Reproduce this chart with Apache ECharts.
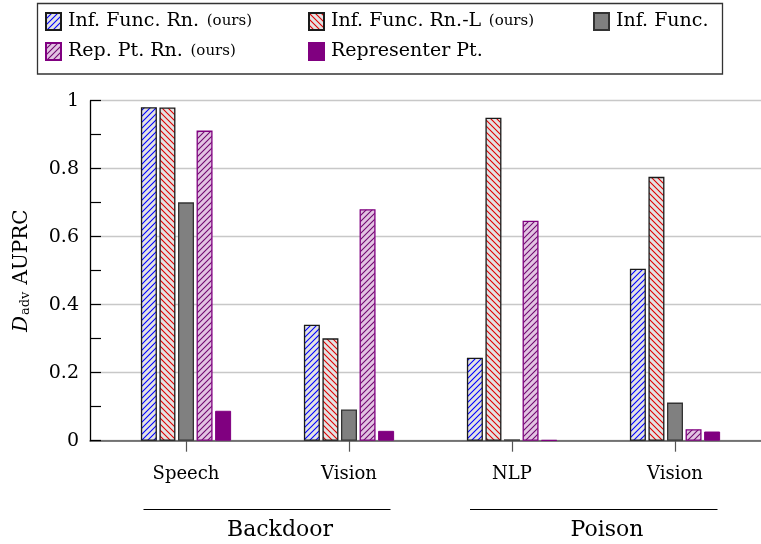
<!DOCTYPE html>
<html>
<head>
<meta charset="utf-8">
<script src="https://cdn.jsdelivr.net/npm/echarts@6/dist/echarts.min.js"></script>
<style>html,body{margin:0;padding:0;background:#fff;}#c{width:761px;height:544px;}</style>
</head>
<body>
<div id="c"></div>
<script>
// ---- data ----
var categories = ['Speech', 'Vision', 'NLP', 'Vision'];
var groups = ['Backdoor', 'Poison'];
var seriesNames = ['Inf. Func. Rn.', 'Inf. Func. Rn.-L', 'Inf. Func.', 'Rep. Pt. Rn.', 'Representer Pt.'];
var infFuncRn   = [0.981, 0.341, 0.244, 0.506];
var infFuncRnL  = [0.980, 0.301, 0.950, 0.776];
var infFunc     = [0.701, 0.092, 0.004, 0.112];
var repPtRn     = [0.912, 0.681, 0.647, 0.034];
var representer = [0.088, 0.029, 0.002, 0.027];
var yTicks = [0, 0.2, 0.4, 0.6, 0.8, 1];

var FONT = 'DejaVu Serif';

function hatch(bg, fg, dir, sp, lw) {
  var s = sp * 4;
  var c = document.createElement('canvas');
  c.width = s; c.height = s;
  var g = c.getContext('2d');
  g.fillStyle = bg; g.fillRect(0, 0, s, s);
  g.strokeStyle = fg; g.lineWidth = lw;
  g.beginPath();
  for (var o = -s; o <= s; o += sp) {
    if (dir === '/') { g.moveTo(o - 1, s + 1); g.lineTo(o + s + 1, -1); }
    else { g.moveTo(o - 1, -1); g.lineTo(o + s + 1, s + 1); }
  }
  g.stroke();
  return {image: c, repeat: 'repeat'};
}

var styles = [
  {color: hatch('#e3e3e3', '#0000ff', '/', 6, 1.1), borderColor: '#1a1a1a', borderWidth: 1.3},
  {color: hatch('#e3e3e3', '#e00000', '\\', 6, 1.1), borderColor: '#1a1a1a', borderWidth: 1.3},
  {color: '#808080', borderColor: '#333333', borderWidth: 1.3},
  {color: hatch('#e2c3e2', '#700a70', '/', 6, 1.1), borderColor: '#800080', borderWidth: 1.3},
  {color: '#800080', borderColor: '#800080', borderWidth: 1}
];
var seriesData = [infFuncRn, infFuncRnL, infFunc, repPtRn, representer];

var series = seriesData.map(function (d, i) {
  return {
    name: seriesNames[i], type: 'bar', xAxisIndex: 1, yAxisIndex: 1,
    data: d, barWidth: 16, barGap: '16%', itemStyle: styles[i], silent: true
  };
});

var legendPos = [[45, 12], [308, 12], [593, 12], [45, 42], [308, 42]];
var ours = [true, true, false, true, false];
var legends = seriesNames.map(function (n, i) {
  return {
    data: [n], left: legendPos[i][0], top: legendPos[i][1], orient: 'horizontal',
    icon: 'rect', itemWidth: 15, itemHeight: 17, itemGap: 0, padding: 0,
    selectedMode: false,
    formatter: function (name) { return ours[i] ? '{a|' + name + '}  {b|(ours)}' : '{a|' + name + '}'; },
    textStyle: {
      fontFamily: FONT, color: '#000', padding: [0, 0, 0, 2],
      rich: {a: {fontFamily: FONT, fontSize: 19, color: '#000'}, b: {fontFamily: FONT, fontSize: 15, color: '#000'}}
    }
  };
});

var chart = echarts.init(document.getElementById('c'), null, {renderer: 'canvas'});
var option = {
  animation: false,
  backgroundColor: '#fff',
  legend: legends,
  grid: [
    {left: 90, right: 0, top: 100.7, bottom: 103.3},
    {left: 104.5, width: 652, top: 100.7, bottom: 103.3}
  ],
  xAxis: [
    {type: 'value', gridIndex: 0, min: 0, max: 1, axisLine: {show: true, onZero: false, lineStyle: {color: '#555', width: 1.5}},
     axisTick: {show: false}, axisLabel: {show: false}, splitLine: {show: false}},
    {type: 'category', gridIndex: 1, data: categories,
     axisLine: {show: false}, axisTick: {show: true, alignWithLabel: true, length: 11, lineStyle: {color: '#555', width: 1.2}},
     axisLabel: {fontFamily: FONT, fontSize: 18, color: '#000', margin: 25}}
  ],
  yAxis: [
    {type: 'value', gridIndex: 0, min: 0, max: 1, interval: 0.2,
     axisLine: {show: true, lineStyle: {color: '#000', width: 1.3}},
     axisTick: {show: true, inside: true, length: 11, lineStyle: {color: '#000', width: 1.2}},
     minorTick: {show: true, splitNumber: 2, length: 11, lineStyle: {color: '#000', width: 1.2}},
     splitLine: {show: true, lineStyle: {color: '#c8c8c8', width: 1.3}},
     axisLabel: {fontFamily: FONT, fontSize: 19, color: '#000', margin: 11,
       formatter: function (v) { return yTicks.indexOf(Math.round(v * 10) / 10) >= 0 ? String(Math.round(v * 10) / 10) : ''; }},
     name: '{d|D}{s|adv}{t|AUPRC}', nameLocation: 'middle', nameGap: 58, nameRotate: 90,
     nameTextStyle: {rich: {
       d: {fontFamily: FONT, fontStyle: 'italic', fontSize: 20, color: '#000'},
       s: {fontFamily: FONT, fontSize: 13, color: '#000', verticalAlign: 'bottom', padding: [8, 7, 0, 1]},
       t: {fontFamily: FONT, fontSize: 20, color: '#000'}
     }}},
    {type: 'value', gridIndex: 1, min: 0, max: 1, show: false, splitLine: {show: false}}
  ],
  graphic: [
    {type: 'rect', shape: {x: 37.5, y: 3.5, width: 685, height: 70.5}, style: {fill: 'none', stroke: '#333', lineWidth: 1.3}, silent: true},
    {type: 'line', shape: {x1: 143.5, y1: 509.5, x2: 390.5, y2: 509.5}, style: {stroke: '#000', lineWidth: 1.2}, silent: true},
    {type: 'line', shape: {x1: 470, y1: 509.5, x2: 717.5, y2: 509.5}, style: {stroke: '#000', lineWidth: 1.2}, silent: true},
    {type: 'text', x: 280, y: 530, style: {text: groups[0], fontFamily: FONT, fontSize: 22, fill: '#000', align: 'center', verticalAlign: 'middle'}, silent: true},
    {type: 'text', x: 607, y: 530, style: {text: groups[1], fontFamily: FONT, fontSize: 22, fill: '#000', align: 'center', verticalAlign: 'middle'}, silent: true}
  ],
  series: series
};
chart.setOption(option);
</script>
</body>
</html>
